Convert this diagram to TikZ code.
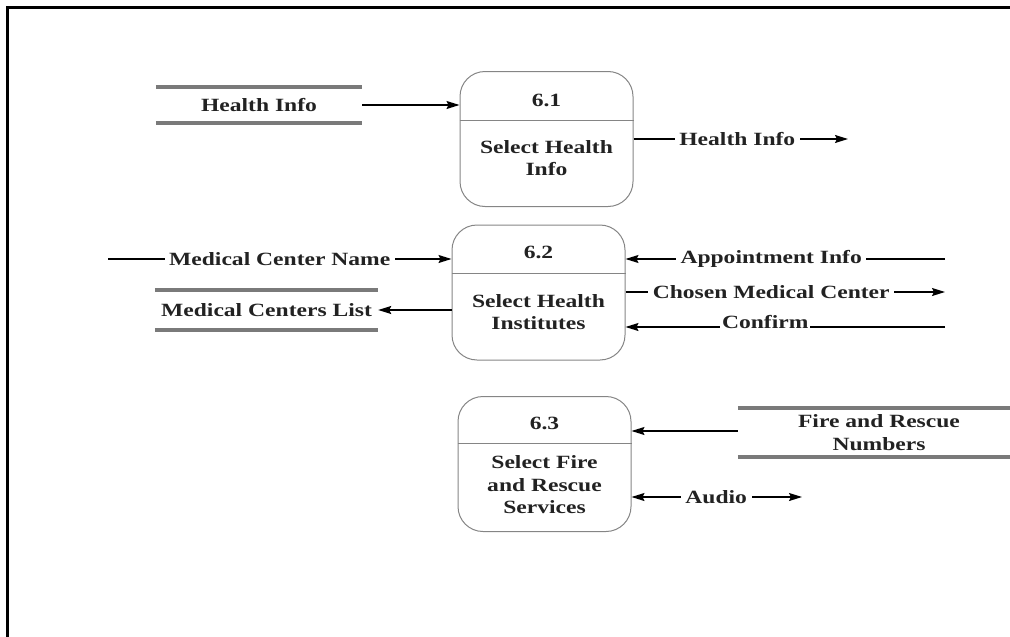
\documentclass[tikz,border=0pt]{standalone}
\usepackage{fontspec}
\setmainfont{Liberation Serif}[FakeStretch=1.26]
\usetikzlibrary{arrows.meta}
\definecolor{ink}{HTML}{222222}
\definecolor{edge}{HTML}{858585}
\definecolor{shelf}{HTML}{7A7A7A}
\newcommand{\dfdfont}{\bfseries\fontsize{18.7}{22.5}\selectfont}
\tikzset{
  proc/.style={draw=edge, line width=1pt, rounded corners=25pt,
    minimum width=173pt, minimum height=135pt, inner sep=0pt},
  divider/.style={draw=edge, line width=1pt},
  ptext/.style={text=ink, font=\dfdfont, align=center, inner sep=0pt},
  store/.style={text=ink, font=\dfdfont, align=center, inner sep=0pt},
  shelfline/.style={draw=shelf, line width=3.5pt},
  flow/.style={draw=black, line width=1.3pt, -{Stealth[length=13pt, width=8pt, inset=2pt]}},
  bothflow/.style={draw=black, line width=1.3pt,
    {Stealth[length=13pt, width=8pt, inset=2pt]}-{Stealth[length=13pt, width=8pt, inset=2pt]}},
  flowlabel/.style={fill=white, text=ink, font=\dfdfont, inner xsep=4.5pt, inner ysep=1pt},
}
\begin{document}
\begin{tikzpicture}[x=1pt, y=-1pt]
  \useasboundingbox (0,0) rectangle (1010,637);
  % page frame
  \draw[line width=2.5pt] (7.5,637) -- (7.5,7.5) -- (1010,7.5);

  % processes
  \node[proc] (p1) at (546.5,139) {};
  \node[ptext] (p1n) at (546.5,100) {6.1};
  \draw[divider] (p1.west |- 0,120) -- (p1.east |- 0,120);
  \node[ptext] (p1t) at (546.5,158) {Select Health\\Info};

  \node[proc] (p2) at (538.5,292.5) {};
  \node[ptext] (p2n) at (538.5,252) {6.2};
  \draw[divider] (p2.west |- 0,273) -- (p2.east |- 0,273);
  \node[ptext] (p2t) at (538.5,312) {Select Health\\Institutes};

  \node[proc] (p3) at (544.5,464) {};
  \node[ptext] (p3n) at (544.5,423) {6.3};
  \draw[divider] (p3.west |- 0,443) -- (p3.east |- 0,443);
  \node[ptext] (p3t) at (544.5,485) {Select Fire\\and Rescue\\Services};

  % data stores
  \node[store, minimum width=206pt, minimum height=36pt] (s1) at (259,105) {Health Info};
  \draw[shelfline] (s1.north west) -- (s1.north east);
  \draw[shelfline] (s1.south west) -- (s1.south east);

  \node[store, minimum width=223pt, minimum height=40pt] (s2) at (266.5,310) {Medical Centers List};
  \draw[shelfline] (s2.north west) -- (s2.north east);
  \draw[shelfline] (s2.south west) -- (s2.south east);

  \node[store, minimum width=282pt, minimum height=49pt] (s3) at (879,432.5) {Fire and Rescue\\Numbers};
  \draw[shelfline] (s3.north west) -- (s3.north east);
  \draw[shelfline] (s3.south west) -- (s3.south east);

  % free ends of flows
  \coordinate (out1) at (848,139);
  \coordinate (mcn) at (108,259);
  \coordinate (ai) at (945,259);
  \coordinate (cm) at (945,292);
  \coordinate (cf) at (945,327);
  \coordinate (au) at (802,497);

  % flows
  \draw[flow] (s1.east) -- (p1.west |- s1.east);
  \draw[flow] (p1.east) -- (out1) node[flowlabel, pos=0.484] {Health Info};

  \draw[flow] (mcn) -- (p2.west |- mcn) node[flowlabel, pos=0.5] {Medical Center Name};
  \draw[flow] (p2.west |- s2.east) -- (s2.east);
  \draw[flow] (ai) -- (p2.east |- ai) node[flowlabel, pos=0.544] {Appointment Info};
  \draw[flow] (p2.east |- cm) -- (cm) node[flowlabel, pos=0.456] {Chosen Medical Center};
  \draw[flow] (cf) -- (p2.east |- cf) node[flowlabel, pos=0.5625, anchor=base, yshift=-1pt, inner xsep=2pt] {Confirm};

  \draw[flow] (s3.west |- 0,431) -- (p3.east |- 0,431);
  \draw[bothflow] (p3.east |- au) -- (au) node[flowlabel, pos=0.497] {Audio};
\end{tikzpicture}
\end{document}
